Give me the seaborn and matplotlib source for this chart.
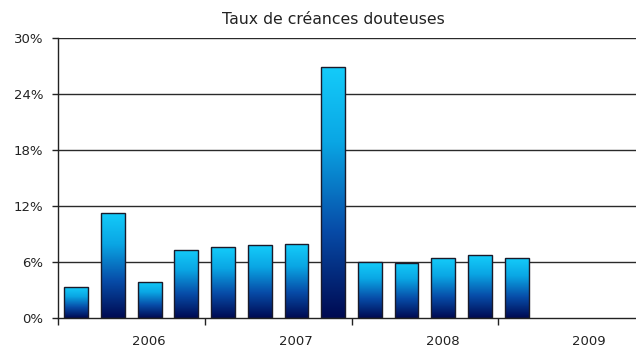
import numpy as np
import pandas as pd
import matplotlib
matplotlib.use("Agg")
import matplotlib.pyplot as plt
from matplotlib.colors import LinearSegmentedColormap
from matplotlib.ticker import FuncFormatter
import seaborn as sns

# Quarterly doubtful-debt ratio (%), 2006 Q1 .. 2008 Q1; 2009 has no data yet
quarters = ["T1 2006", "T2 2006", "T3 2006", "T4 2006",
            "T1 2007", "T2 2007", "T3 2007", "T4 2007",
            "T1 2008", "T2 2008", "T3 2008", "T4 2008",
            "T1 2009", "T2 2009", "T3 2009", "T4 2009"]
rates = [3.3, 11.3, 3.9, 7.3, 7.6, 7.8, 7.9, 26.9,
         6.0, 5.9, 6.4, 6.7, 6.4]
years = ["2006", "2007", "2008", "2009"]
y_ticks = [0, 6, 12, 18, 24, 30]

df = pd.DataFrame({"trimestre": quarters[:len(rates)], "taux": rates})

sns.set_theme(style="white")
plt.rcParams["font.family"] = ["DejaVu Sans"]

W, H = 636, 347
fig = plt.figure(figsize=(W / 100, H / 100), dpi=100)
fig.patch.set_facecolor("white")
ax = fig.add_axes([58 / W, (H - 318) / H, (645 - 58) / W, 280 / H])

sns.barplot(data=df, x="trimestre", y="taux", order=quarters, ax=ax,
            width=0.65, color="#10c0f0", edgecolor="#1a1a2a", linewidth=1.0,
            errorbar=None, zorder=3)

# vertical gradient fill (navy at the base, cyan at the top) inside each bar
cmap = LinearSegmentedColormap.from_list(
    "bleu", [(0.0, "#000a52"), (0.35, "#074ca8"), (0.7, "#0aa6e4"),
             (1.0, "#14ccfa")])
grad = np.linspace(0, 1, 256).reshape(-1, 1)
for patch in ax.patches:
    x0, y0 = patch.get_x(), patch.get_y()
    w, h = patch.get_width(), patch.get_height()
    if not np.isfinite(h) or h <= 0:
        continue
    patch.set_facecolor("none")
    im = ax.imshow(grad, cmap=cmap, origin="lower", aspect="auto",
                   extent=(x0, x0 + w, y0, y0 + h), zorder=2.5,
                   interpolation="bilinear")
    im.set_clip_path(patch)
ax.set_xlim(-0.5, len(quarters) - 0.5)
ax.set_ylim(0, 30)

# horizontal gridlines
ax.set_yticks(y_ticks)
ax.yaxis.set_major_formatter(FuncFormatter(lambda v, p: f"{v:.0f}%"))
for v in y_ticks[1:]:
    ax.axhline(v, color="#2a2a2a", lw=1.0, zorder=1)

# year separators as major ticks, year names under each group
ax.set_xticks([-0.5, 3.5, 7.5, 11.5, 15.5])
ax.set_xticklabels([])
ax.set_xticks([1.98, 5.98, 9.98, 13.98], minor=True)
ax.set_xticklabels(years, minor=True)
ax.tick_params(axis="x", which="major", direction="out", length=5,
               width=1, color="#222222", bottom=True)
ax.tick_params(axis="x", which="minor", length=0, pad=12.5,
               labelsize=9.5, labelcolor="#222222")
ax.tick_params(axis="y", direction="out", length=4, width=1,
               color="#222222", left=True, labelsize=9.5,
               labelcolor="#222222", pad=6.5)
ax.set_xlabel("")
ax.set_ylabel("")

for side in ["top", "right"]:
    ax.spines[side].set_visible(False)
for side in ["left", "bottom"]:
    ax.spines[side].set_color("#222222")
    ax.spines[side].set_linewidth(1.0)
ax.spines["bottom"].set_zorder(4)

fig.text(333 / W, 1 - 20 / H, "Taux de créances douteuses",
         ha="center", va="center", fontsize=11.3, color="#222222")

fig.savefig("out.png", dpi=100, facecolor="white")
